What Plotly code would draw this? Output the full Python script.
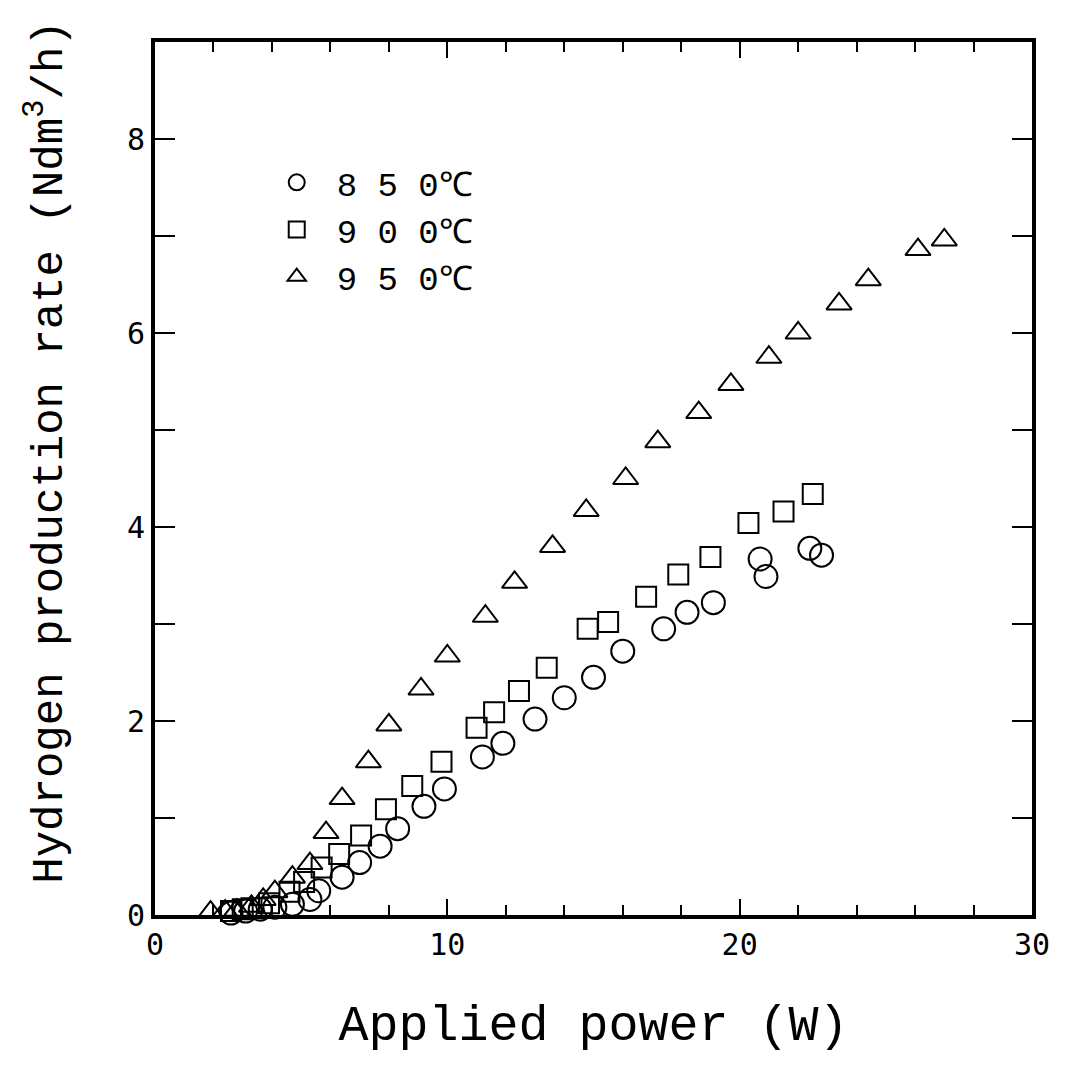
import plotly.graph_objects as go

# ---- data ----
power_850 = [2.6, 3.1, 3.6, 4.1, 4.7, 5.3, 5.6, 6.4, 7.0, 7.7, 8.3, 9.2, 9.9, 11.2, 11.9,
             13.0, 14.0, 15.0, 16.0, 17.4, 18.2, 19.1, 20.7, 20.9, 22.4, 22.8]
rate_850 = [0.02, 0.04, 0.06, 0.08, 0.11, 0.16, 0.25, 0.39, 0.54, 0.71, 0.89, 1.12, 1.30, 1.63, 1.77,
            2.02, 2.24, 2.45, 2.72, 2.95, 3.12, 3.22, 3.67, 3.49, 3.78, 3.71]

power_900 = [2.6, 3.0, 3.3, 3.9, 4.6, 5.1, 5.7, 6.3, 7.05, 7.9, 8.8, 9.8, 11.0, 11.6, 12.45,
             13.4, 14.8, 15.5, 16.8, 17.9, 19.0, 20.3, 21.5, 22.5]
rate_900 = [0.04, 0.06, 0.07, 0.12, 0.24, 0.34, 0.49, 0.63, 0.82, 1.09, 1.33, 1.58, 1.93, 2.09, 2.31,
            2.55, 2.95, 3.02, 3.28, 3.51, 3.69, 4.04, 4.16, 4.34]

power_950 = [1.9, 2.4, 2.8, 3.3, 3.7, 4.1, 4.7, 5.3, 5.85, 6.4, 7.3, 8.0, 9.1, 10.0, 11.3,
             12.3, 13.6, 14.75, 16.1, 17.2, 18.6, 19.7, 21.0, 22.0, 23.4, 24.4, 26.1, 27.0]
rate_950 = [0.03, 0.04, 0.05, 0.09, 0.16, 0.24, 0.39, 0.53, 0.85, 1.20, 1.58, 1.96, 2.33, 2.67, 3.08,
            3.43, 3.80, 4.17, 4.50, 4.88, 5.18, 5.47, 5.75, 6.00, 6.30, 6.55, 6.86, 6.96]

series_names = ["8 5 0℃", "9 0 0℃", "9 5 0℃"]
x_tick_vals = [0, 10, 20, 30]
x_tick_text = ["0", "10", "20", "30"]
y_tick_vals = [0, 2, 4, 6, 8]
y_tick_text = ["0", "2", "4", "6", "8"]
x_title = "Applied power (W)"
y_title = "Hydrogen production rate (Ndm<sup>3</sup>/h)"

fig = go.Figure()
for xs, ys, name, sym, size in [
    (power_850, rate_850, series_names[0], "circle-open", 23),
    (power_900, rate_900, series_names[1], "square-open", 20),
    (power_950, rate_950, series_names[2], "triangle-up-open", 22),
]:
    fig.add_trace(go.Scatter(
        x=xs, y=ys, name=name, mode="markers",
        marker=dict(symbol=sym, size=size, color="black", line=dict(width=2, color="black")),
        cliponaxis=False,
    ))

tick_font = dict(family="DejaVu Sans Mono", size=30, color="black")
title_font_family = "Liberation Mono"

fig.update_layout(
    width=1068, height=1069,
    margin=dict(l=155, r=36, t=42, b=154),
    paper_bgcolor="white", plot_bgcolor="white",
    showlegend=True,
    legend=dict(
        x=0.116, y=0.872, xanchor="left", yanchor="top",
        font=dict(family=title_font_family, size=34, color="black"),
        bgcolor="rgba(0,0,0,0)", itemsizing="trace", itemwidth=70, tracegroupgap=0,
    ),
    xaxis=dict(
        range=[0, 30], showgrid=False, zeroline=False,
        showline=True, linewidth=4, linecolor="black", mirror="allticks",
        ticks="inside", ticklen=16, tickwidth=2, tickcolor="black",
        tickvals=x_tick_vals, ticktext=x_tick_text, tickfont=tick_font,
        minor=dict(dtick=2, ticks="inside", ticklen=10, tickwidth=2, tickcolor="black"),
        title=dict(text=x_title, font=dict(family=title_font_family, size=50, color="black"),
                   standoff=45),
    ),
    yaxis=dict(
        range=[0, 9], showgrid=False, zeroline=False,
        showline=True, linewidth=4, linecolor="black", mirror="allticks",
        ticks="inside", ticklen=20, tickwidth=2, tickcolor="black",
        tickvals=y_tick_vals, ticktext=y_tick_text, tickfont=tick_font,
        minor=dict(dtick=1, ticks="inside", ticklen=20, tickwidth=2, tickcolor="black"),
    ),
    annotations=[dict(
        text=y_title, textangle=-90, xref="paper", yref="paper",
        x=-0.125, y=0.53, xanchor="center", yanchor="middle", showarrow=False,
        font=dict(family=title_font_family, size=44, color="black"),
    )],
)

fig.write_html("out.html")
